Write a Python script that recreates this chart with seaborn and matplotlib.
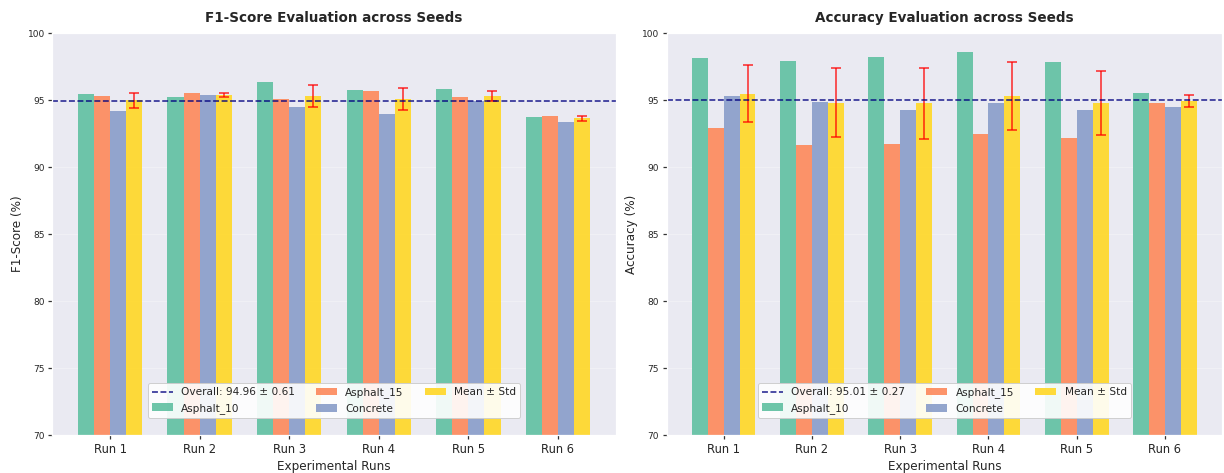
import numpy as np
import pandas as pd
import seaborn as sns
import matplotlib.pyplot as plt

runs = ["Run 1", "Run 2", "Run 3", "Run 4", "Run 5", "Run 6"]
series = ["Asphalt_10", "Asphalt_15", "Concrete", "Mean ± Std"]
colors = ["#66c2a5", "#fc8d62", "#8da0cb", "#ffd92f"]

# F1-score per run
f1_asphalt_10 = [95.45, 95.22, 96.37, 95.72, 95.80, 93.70]
f1_asphalt_15 = [95.30, 95.55, 95.05, 95.65, 95.22, 93.80]
f1_concrete = [94.18, 95.40, 94.48, 93.95, 94.93, 93.38]
f1_mean = [94.98, 95.39, 95.30, 95.07, 95.32, 93.63]
f1_std = [0.57, 0.14, 0.79, 0.82, 0.37, 0.17]
f1_overall = 94.96
f1_overall_label = "Overall: 94.96 ± 0.61"

# Accuracy per run
acc_asphalt_10 = [98.16, 97.91, 98.23, 98.58, 97.86, 95.50]
acc_asphalt_15 = [92.93, 91.64, 91.74, 92.46, 92.16, 94.78]
acc_concrete = [95.30, 94.87, 94.25, 94.78, 94.25, 94.48]
acc_mean = [95.46, 94.81, 94.74, 95.27, 94.76, 94.92]
acc_std = [2.14, 2.57, 2.67, 2.53, 2.37, 0.42]
acc_overall = 95.01
acc_overall_label = "Overall: 95.01 ± 0.27"


def make_df(a10, a15, conc, mean):
    rows = []
    for name, vals in zip(series, [a10, a15, conc, mean]):
        for r, v in zip(runs, vals):
            rows.append({"run": r, "series": name, "value": v})
    return pd.DataFrame(rows)


sns.set_theme(style="darkgrid")
plt.rcParams["font.family"] = ["DejaVu Sans"]

fig, axes = plt.subplots(1, 2, figsize=(17, 6.57), dpi=72)
axes[0].set_position([52.3 / 1224, 0.0803, 563.4 / 1224, 0.8499])
axes[1].set_position([666.7 / 1224, 0.0803, 555.3 / 1224, 0.8499])

panels = [
    (axes[0], make_df(f1_asphalt_10, f1_asphalt_15, f1_concrete, f1_mean), f1_mean, f1_std,
     f1_overall, f1_overall_label, "F1-Score Evaluation across Seeds", "F1-Score (%)"),
    (axes[1], make_df(acc_asphalt_10, acc_asphalt_15, acc_concrete, acc_mean), acc_mean, acc_std,
     acc_overall, acc_overall_label, "Accuracy Evaluation across Seeds", "Accuracy (%)"),
]

for ax, df, mean, std, overall, overall_label, title, ylabel in panels:
    sns.barplot(data=df, x="run", y="value", hue="series", palette=colors,
                saturation=1, width=0.72, errorbar=None, ax=ax,
                linewidth=0, alpha=0.95)
    # error bars on the mean bars
    mean_bars = ax.containers[3]
    xs = [p.get_x() + p.get_width() / 2 for p in mean_bars]
    ax.errorbar(xs, mean, yerr=std, fmt="none", ecolor="red", elinewidth=1.5,
                capsize=5, capthick=1.5, alpha=0.85)
    ax.axhline(overall, color="navy", linestyle="--", linewidth=1.6,
               alpha=0.85, label=overall_label)

    ax.set_ylim(70, 100)
    ax.set_yticks([70, 75, 80, 85, 90, 95, 100])
    ax.set_title(title, fontsize=13.5, fontweight="bold", pad=11)
    ax.set_xlabel("Experimental Runs", fontsize=12)
    ax.set_ylabel(ylabel, fontsize=12)
    ax.tick_params(axis="x", labelsize=11.5, bottom=True, length=4, color="#333333")
    ax.tick_params(axis="y", labelsize=9, left=True, length=4, color="#333333")
    ax.grid(axis="y", alpha=0.3)

    handles, labels = ax.get_legend_handles_labels()
    idx = labels.index(overall_label)
    order = [idx] + [i for i in range(len(labels)) if i != idx]
    ax.legend([handles[i] for i in order], [labels[i] for i in order],
              loc="lower center", bbox_to_anchor=(0.5, 0.03), ncol=3,
              fontsize=10.5, frameon=True, facecolor="white", framealpha=0.9,
              edgecolor="#cccccc", title=None)

fig.savefig("out.png", dpi=72)
